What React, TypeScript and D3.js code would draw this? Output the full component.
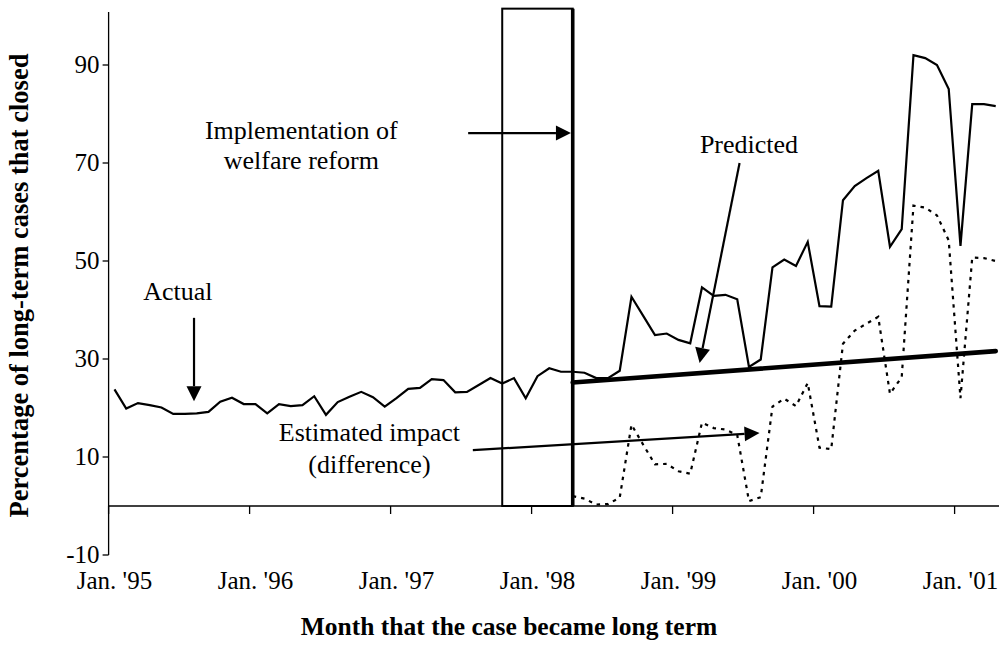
import React from "react";
import * as d3 from "d3";

// ---- data ----
// month index 0 = Jan 1995 ... 75 = Apr 2001
const actual: number[] = [
  23.8, 19.9, 21.0, 20.6, 20.1, 18.8, 18.8, 18.9, 19.2, 21.3, 22.1, 20.8,
  20.8, 18.9, 20.8, 20.4, 20.6, 22.4, 18.6, 21.2, 22.3, 23.3, 22.2, 20.3,
  22.0, 23.9, 24.1, 25.9, 25.7, 23.2, 23.3, 24.7, 26.1, 25.0, 26.1, 22.0,
  26.5, 28.1, 27.4, 27.4, 27.2, 26.1, 26.1, 27.6, 42.7, 38.8, 34.9, 35.2,
  33.9, 33.2, 44.6, 42.9, 43.1, 42.2, 28.4, 29.9, 48.7, 50.3, 49.0, 53.9,
  40.8, 40.7, 62.4, 65.3, 66.9, 68.4, 52.9, 56.5, 92.0, 91.4, 90.0, 85.1,
  53.1, 82.0, 82.0, 81.6,
];
const impactStart = 39; // Apr 1998
const impact: number[] = [
  2.0, 1.5, 0.3, 0.4, 1.7, 16.6, 12.5, 8.5, 8.6, 7.1, 6.6, 17.0, 15.9,
  15.6, 14.5, 1.0, 1.8, 20.3, 21.9, 20.4, 25.1, 11.9, 11.6, 33.1, 35.8,
  37.2, 38.6, 22.9, 26.3, 61.3, 60.9, 59.3, 54.2, 22.0, 50.7, 50.6, 50.0,
];
const predictedMonths: number[] = [39, 75];
const predictedValues: number[] = [25.2, 31.6];

const yTicks: number[] = [-10, 10, 30, 50, 70, 90];
const xTickMonths: number[] = [0, 12, 24, 36, 48, 60, 72];
const xTickLabels: string[] = [
  "Jan. '95", "Jan. '96", "Jan. '97", "Jan. '98", "Jan. '99", "Jan. '00", "Jan. '01",
];
const boxMonths: number[] = [33, 39];
const boxTop = 101.5;

const W = 999;
const H = 655;
const FONT = "'Liberation Serif', 'Times New Roman', Times, serif";

export default function App() {
  const x = d3.scaleLinear().domain([-0.5, 75.5]).range([108.6, 1001.6]);
  const y = d3.scaleLinear().domain([-10, 100]).range([555, 16]);

  const line = d3
    .line<[number, number]>()
    .x((d) => x(d[0]))
    .y((d) => y(d[1]));

  const actualPts: [number, number][] = actual.map((v, i) => [i, v]);
  const impactPts: [number, number][] = impact.map((v, i) => [i + impactStart, v]);
  const predPts: [number, number][] = predictedMonths.map((m, i) => [m, predictedValues[i]]);

  const arrow = (x1: number, y1: number, x2: number, y2: number, key: string) => {
    const ang = Math.atan2(y2 - y1, x2 - x1);
    const L = 15;
    const Wd = 7.5;
    const bx = x2 - L * Math.cos(ang);
    const by = y2 - L * Math.sin(ang);
    const px = -Math.sin(ang) * Wd;
    const py = Math.cos(ang) * Wd;
    return (
      <g key={key}>
        <line x1={x1} y1={y1} x2={bx} y2={by} stroke="#000" strokeWidth={2.2} />
        <polygon
          points={`${x2},${y2} ${bx + px},${by + py} ${bx - px},${by - py}`}
          fill="#000"
        />
      </g>
    );
  };

  const txt = { fontFamily: FONT } as React.CSSProperties;

  return (
    <div style={{ position: "absolute", left: 0, top: 0 }}>
      <svg width={W} height={H} style={{ display: "block", background: "#fff" }}>
        {/* y axis */}
        <line x1={x(-0.5)} x2={x(-0.5)} y1={y(-10)} y2={y(100.8)} stroke="#000" strokeWidth={1.3} />
        {yTicks.map((t) => (
          <g key={t}>
            <line x1={x(-0.5) - 6} x2={x(-0.5)} y1={y(t)} y2={y(t)} stroke="#000" strokeWidth={1.3} />
            <text
              x={x(-0.5) - 9}
              y={y(t)}
              dy="0.32em"
              textAnchor="end"
              style={txt}
              fontSize={25}
            >
              {t}
            </text>
          </g>
        ))}
        {/* x axis at zero */}
        <line x1={x(-0.5)} x2={W} y1={y(0)} y2={y(0)} stroke="#000" strokeWidth={1.3} />
        {xTickMonths.map((m, i) => (
          <g key={m}>
            <line
              x1={x(m - 0.5)}
              x2={x(m - 0.5)}
              y1={y(0)}
              y2={y(0) + 8}
              stroke="#000"
              strokeWidth={1.3}
            />
            <text x={x(m)} y={589} textAnchor="middle" style={txt} fontSize={25}>
              {xTickLabels[i]}
            </text>
          </g>
        ))}

        {/* axis titles */}
        <text
          x={509}
          y={635}
          textAnchor="middle"
          style={txt}
          fontSize={25.5}
          fontWeight="bold"
        >
          Month that the case became long term
        </text>
        <text
          transform={`translate(28,${y(45)}) rotate(-90)`}
          textAnchor="middle"
          style={txt}
          fontSize={26.5}
          fontWeight="bold"
        >
          Percentage of long-term cases that closed
        </text>

        {/* implementation box */}
        <rect
          x={x(boxMonths[0])}
          y={y(boxTop)}
          width={x(boxMonths[1]) - x(boxMonths[0])}
          height={y(0) - y(boxTop)}
          fill="none"
          stroke="#000"
          strokeWidth={2}
        />
        <line
          x1={x(boxMonths[1])}
          x2={x(boxMonths[1])}
          y1={y(boxTop)}
          y2={y(0)}
          stroke="#000"
          strokeWidth={3.6}
        />

        {/* series */}
        <path d={line(actualPts) ?? ""} fill="none" stroke="#000" strokeWidth={2.2} strokeLinejoin="miter" />
        <path
          d={line(impactPts) ?? ""}
          fill="none"
          stroke="#000"
          strokeWidth={2.2}
          strokeDasharray="3.5,5"
        />
        <path
          d={line(predPts) ?? ""}
          fill="none"
          stroke="#000"
          strokeWidth={4.6}
          strokeLinecap="round"
        />

        {/* annotations */}
        <text x={x(15.9)} y={y(74.9)} textAnchor="middle" style={txt} fontSize={26}>
          Implementation of
        </text>
        <text x={x(15.9)} y={y(68.8)} textAnchor="middle" style={txt} fontSize={26}>
          welfare reform
        </text>
        {arrow(x(30.1), y(76.1), x(38.85), y(76.1), "impl")}

        <text x={x(54.0)} y={y(72.0)} textAnchor="middle" style={txt} fontSize={26}>
          Predicted
        </text>
        {arrow(x(53.2), y(70.0), x(49.8), y(29.2), "pred")}

        <text x={x(5.4)} y={y(42.0)} textAnchor="middle" style={txt} fontSize={26}>
          Actual
        </text>
        {arrow(x(6.77), y(38.4), x(6.77), y(21.4), "act")}

        <text x={x(21.7)} y={y(13.3)} textAnchor="middle" style={txt} fontSize={26}>
          Estimated impact
        </text>
        <text x={x(21.7)} y={y(6.7)} textAnchor="middle" style={txt} fontSize={26}>
          (difference)
        </text>
        {arrow(x(30.5), y(11.4), x(54.9), y(14.9), "imp")}
      </svg>
    </div>
  );
}
